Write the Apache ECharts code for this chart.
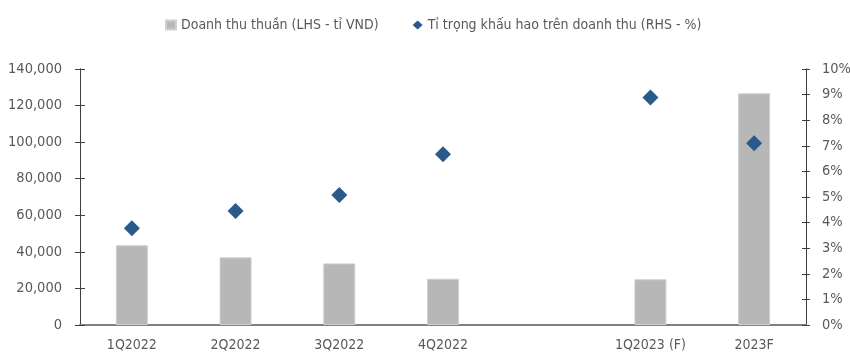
<!DOCTYPE html>
<html><head><meta charset="utf-8">
<script src="https://cdn.jsdelivr.net/npm/echarts@6/dist/echarts.min.js"></script>
<style>html,body{margin:0;padding:0;background:#fff}#c{width:850px;height:353px}</style>
</head><body><div id="c"></div>
<script>
const categories = ['1Q2022','2Q2022','3Q2022','4Q2022','','1Q2023 (F)','2023F'];
const revenue = [43600, 37000, 33700, 25300, null, 25000, 126700];
const depreciationRatio = [3.78, 4.45, 5.08, 6.67, null, 8.89, 7.10];
const seriesNames = ['Doanh thu thuần (LHS - tỉ VND)', 'Tỉ trọng khấu hao trên doanh thu (RHS - %)'];

const FONT = '"Liberation Sans Narrow","DejaVu Sans Condensed","Noto Sans",sans-serif';
const TXT = '#595959';
const chart = echarts.init(document.getElementById('c'), null, {renderer:'canvas'});
const yBase = {type:'value', min:0, splitLine:{show:false}, axisLine:{show:true, lineStyle:{color:'#404040', width:1}}};
chart.setOption({
  animation:false,
  textStyle:{fontFamily:FONT},
  legend:{left:160, top:13, itemGap:34, itemWidth:10, itemHeight:9,
    textStyle:{color:TXT, fontSize:14, fontFamily:FONT},
    data:[{name:seriesNames[0], icon:'rect'},{name:seriesNames[1], icon:'diamond'}]},
  grid:{left:80, right:44, top:69, bottom:28, containLabel:false, outerBoundsMode:'none'},
  xAxis:{type:'category', data:categories, boundaryGap:true,
    axisLine:{lineStyle:{color:'#808080', width:2}},
    axisTick:{inside:true, length:4, lineStyle:{color:'#404040'}},
    axisLabel:{color:TXT, fontSize:14, margin:13, interval:0, fontFamily:FONT}},
  yAxis:[
    Object.assign({}, yBase, {position:'left', max:140000, interval:20000,
      axisTick:{show:true, length:5, lineStyle:{color:'#404040'}},
      axisLabel:{color:TXT, fontSize:14.5, margin:18, fontFamily:FONT,
        formatter:v=>v.toLocaleString('en-US')}}),
    Object.assign({}, yBase, {position:'right', max:10, interval:1,
      axisTick:{show:true, length:4, lineStyle:{color:'#404040'}},
      axisLabel:{color:TXT, fontSize:14.5, margin:16, fontFamily:FONT, formatter:v=>v+'%'}}),
    Object.assign({}, yBase, {position:'left', max:140000, interval:20000,
      axisTick:{show:true, inside:true, length:5, lineStyle:{color:'#404040'}}, axisLabel:{show:false}}),
    Object.assign({}, yBase, {position:'right', max:10, interval:1,
      axisTick:{show:true, inside:true, length:4, lineStyle:{color:'#404040'}}, axisLabel:{show:false}})
  ],
  series:[
    {name:seriesNames[0], type:'bar', yAxisIndex:0, data:revenue, barWidth:32,
      itemStyle:{color:'#b7b7b7', borderColor:'#d0d0d0', borderWidth:1}},
    {name:seriesNames[1], type:'scatter', yAxisIndex:1, data:depreciationRatio,
      symbol:'diamond', symbolSize:16, itemStyle:{color:'#285a8c', opacity:1}}
  ]
});
</script></body></html>
